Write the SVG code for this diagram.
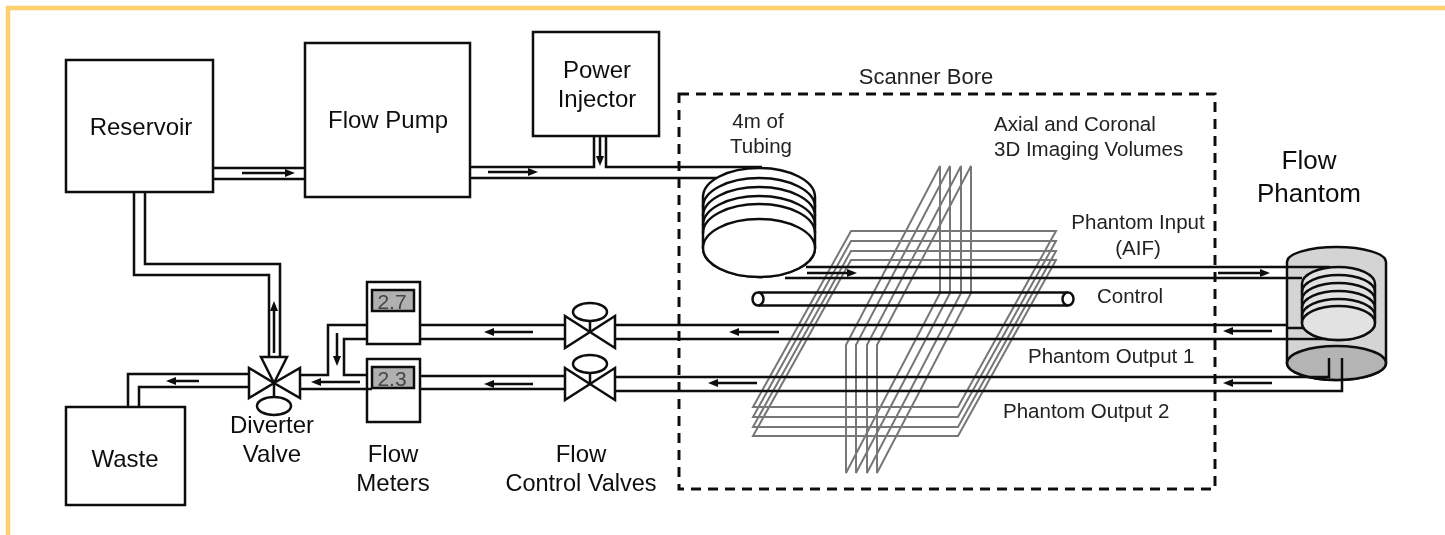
<svg xmlns="http://www.w3.org/2000/svg" width="1445" height="535" viewBox="0 0 1445 535">
<defs>
<style>
text{font-family:"Liberation Sans",Arial,sans-serif;font-size:20.5px;fill:#222}
.m{text-anchor:middle}
.b{font-size:24px;fill:#111}
.box{fill:#fff;stroke:#111;stroke-width:2.5}
.t{fill:none;stroke:#111;stroke-width:2.5;stroke-linejoin:miter}
.a{fill:none;stroke:#111;stroke-width:2.5;marker-end:url(#h)}
.p{fill:none;stroke:#777;stroke-width:2}
.v{fill:#fff;stroke:#111;stroke-width:2.5;stroke-linejoin:miter}
.d{fill:#b0b0b0;stroke:#111;stroke-width:2.5}
.n{font-size:21px;fill:#444}
</style>
<filter id="soft" filterUnits="userSpaceOnUse" x="0" y="0" width="1445" height="535"><feGaussianBlur stdDeviation="0.4"/></filter>
<marker id="h" viewBox="0 0 10 8" refX="2" refY="4" markerUnits="userSpaceOnUse" markerWidth="10" markerHeight="8" orient="auto"><path d="M0 0L10 4L0 8Z" fill="#111"/></marker>
<g id="planeH"><path class="p" d="M851 231H1056L958 407H753Z"/></g>
<g id="planeV"><path class="p" d="M940 166V293L846 473V345Z"/></g>
<g id="valve"><path class="v" d="M565 316V348L615 316V348Z"/><path class="t" d="M590 332V318"/><ellipse class="v" cx="590" cy="312" rx="17" ry="9"/></g>
</defs>
<rect width="1445" height="535" fill="#fff"/>
<g filter="url(#soft)">
<path d="M8 535V8H1445" fill="none" stroke="#ffd06e" stroke-width="4.5"/>
<g id="imaging-volumes">
<use href="#planeH"/><use href="#planeH" y="10"/><use href="#planeH" y="20"/><use href="#planeH" y="29"/>
<use href="#planeV"/><use href="#planeV" x="10"/><use href="#planeV" x="21"/><use href="#planeV" x="31"/>
</g>
<g id="scanner-bore"><rect x="679" y="94" width="536" height="395" fill="none" stroke="#111" stroke-width="3" stroke-dasharray="10 7"/><text x="926" y="84" class="m" style="font-size:22px">Scanner Bore</text></g>
<g id="connectors">
<path class="t" d="M213 168H305M213 179H305"/>
<path class="t" d="M470 167H594V136M606 136V167H762M470 178H722"/>
<path class="t" d="M134 192V275H269V357M145 192V264H280V357"/>
<path class="t" d="M128 407V374H250M139 407V387H250"/>
<path class="t" d="M367 325H328V375H300M367 339H344V375H367M300 389H372"/>
<path class="t" d="M420 325H565M420 339H565M420 376H565M420 389H565"/>
<path class="t" d="M615 325H1287M615 339H1287M615 377H1287M615 391H1287"/>
<path class="t" d="M806 267H1287M785 278H1287"/>
<path class="t" d="M758 292.500H1068M758 305.500H1068"/>
<path class="a" d="M242 173H287"/><path class="a" d="M488 172H530"/>
<path class="a" d="M600 137V158"/><path class="a" d="M274 353V309"/>
<path class="a" d="M199 381H174"/><path class="a" d="M360 382H319"/><path class="a" d="M337 333V358"/>
<path class="a" d="M533 332H492"/><path class="a" d="M533 384H492"/>
<path class="a" d="M779 332H737"/><path class="a" d="M757 383H716"/>
<path class="a" d="M807 273H849"/><path class="a" d="M1218 273H1262"/>
<path class="a" d="M1272 331H1231"/><path class="a" d="M1272 383H1231"/>
</g>
<g id="control-tube"><ellipse class="v" cx="758" cy="299" rx="5.500" ry="6.500"/><ellipse class="v" cx="1068" cy="299" rx="5.500" ry="6.500"/><text x="1097" y="303">Control</text></g>
<g id="reservoir"><rect class="box" x="66" y="60" width="147" height="132"/><text class="b m" x="141" y="135">Reservoir</text></g>
<g id="flow-pump"><rect class="box" x="305" y="43" width="165" height="154"/><text class="b m" x="388" y="128">Flow Pump</text></g>
<g id="power-injector"><rect class="box" x="533" y="32" width="126" height="104"/><text class="b m" x="597" y="78">Power</text><text class="b m" x="597" y="107">Injector</text></g>
<g id="waste"><rect class="box" x="66" y="407" width="119" height="98"/><text class="b m" x="125" y="467">Waste</text></g>
<g id="tubing-coil">
<path class="v" d="M703 197A56 29 0 0 1 815 197V248A56 29 0 0 1 703 248Z"/>
<path class="t" d="M703 207A56 29 0 0 1 815 207M703 216A56 29 0 0 1 815 216M703 225A56 29 0 0 1 815 225M703 233A56 29 0 0 1 815 233"/>
<ellipse class="v" cx="759" cy="248" rx="56" ry="29"/>
<text class="m" x="758" y="128">4m of</text><text class="m" x="761" y="153">Tubing</text>
</g>
<g id="diverter-valve">
<path class="v" d="M261 357H287L274 383Z"/><path class="v" d="M249 368V398L274 383Z"/><path class="v" d="M300 368V398L274 383Z"/>
<path class="t" d="M274 383V397"/><ellipse class="v" cx="274" cy="406" rx="17" ry="9"/>
<text class="b m" x="272" y="433">Diverter</text><text class="b m" x="272" y="462">Valve</text>
</g>
<g id="flow-meter-1"><rect class="box" x="367" y="282" width="53" height="62"/><rect class="d" x="372" y="290" width="42" height="21"/><text class="m n" x="392" y="309">2.7</text></g>
<g id="flow-meter-2"><rect class="box" x="367" y="359" width="53" height="63"/><path class="t" d="M367 389H372"/><rect class="d" x="372" y="367" width="42" height="21"/><text class="m n" x="392" y="386">2.3</text></g>
<g id="flow-meters-label"><text class="b m" x="393" y="462">Flow</text><text class="b m" x="393" y="491">Meters</text></g>
<use id="flow-control-valve-1" href="#valve"/><use id="flow-control-valve-2" href="#valve" y="52"/>
<g id="flow-phantom">
<path d="M1287 262A49.500 15 0 0 1 1386 262V363A49.500 17 0 0 1 1287 363Z" fill="#d4d4d4" stroke="#111" stroke-width="2.500"/>
<path d="M1302 284A36.500 17 0 0 1 1375 284V323A36.500 17 0 0 1 1302 323Z" fill="#e2e2e2" stroke="#111" stroke-width="2.500"/>
<path class="t" d="M1302 292A36.500 17 0 0 1 1375 292M1302 300A36.500 17 0 0 1 1375 300M1302 308A36.500 17 0 0 1 1375 308M1302 316A36.500 17 0 0 1 1375 316"/>
<ellipse cx="1338.500" cy="323" rx="36.500" ry="17" fill="#e2e2e2" stroke="#111" stroke-width="2.500"/>
<ellipse cx="1336.500" cy="363" rx="49.500" ry="17" fill="#b4b4b4" stroke="#111" stroke-width="2.500"/>
<path class="t" d="M1287 267H1330M1287 278H1302M1287 328H1303M1287 339H1327M1287 377H1329V358M1287 391H1342V358"/>
<text class="m" x="1309" y="169" style="font-size:26px;fill:#111">Flow</text><text class="m" x="1309" y="202" style="font-size:26px;fill:#111">Phantom</text>
</g>
<g id="labels">
<text x="994" y="131">Axial and Coronal</text><text x="994" y="156">3D Imaging Volumes</text>
<text class="m" x="1138" y="229">Phantom Input</text><text class="m" x="1138" y="255">(AIF)</text>
<text x="1028" y="363">Phantom Output 1</text><text x="1003" y="418">Phantom Output 2</text>
<text class="b m" x="581" y="462">Flow</text><text class="b m" x="581" y="491" style="font-size:23.500px">Control Valves</text>
</g>
</g>
</svg>
